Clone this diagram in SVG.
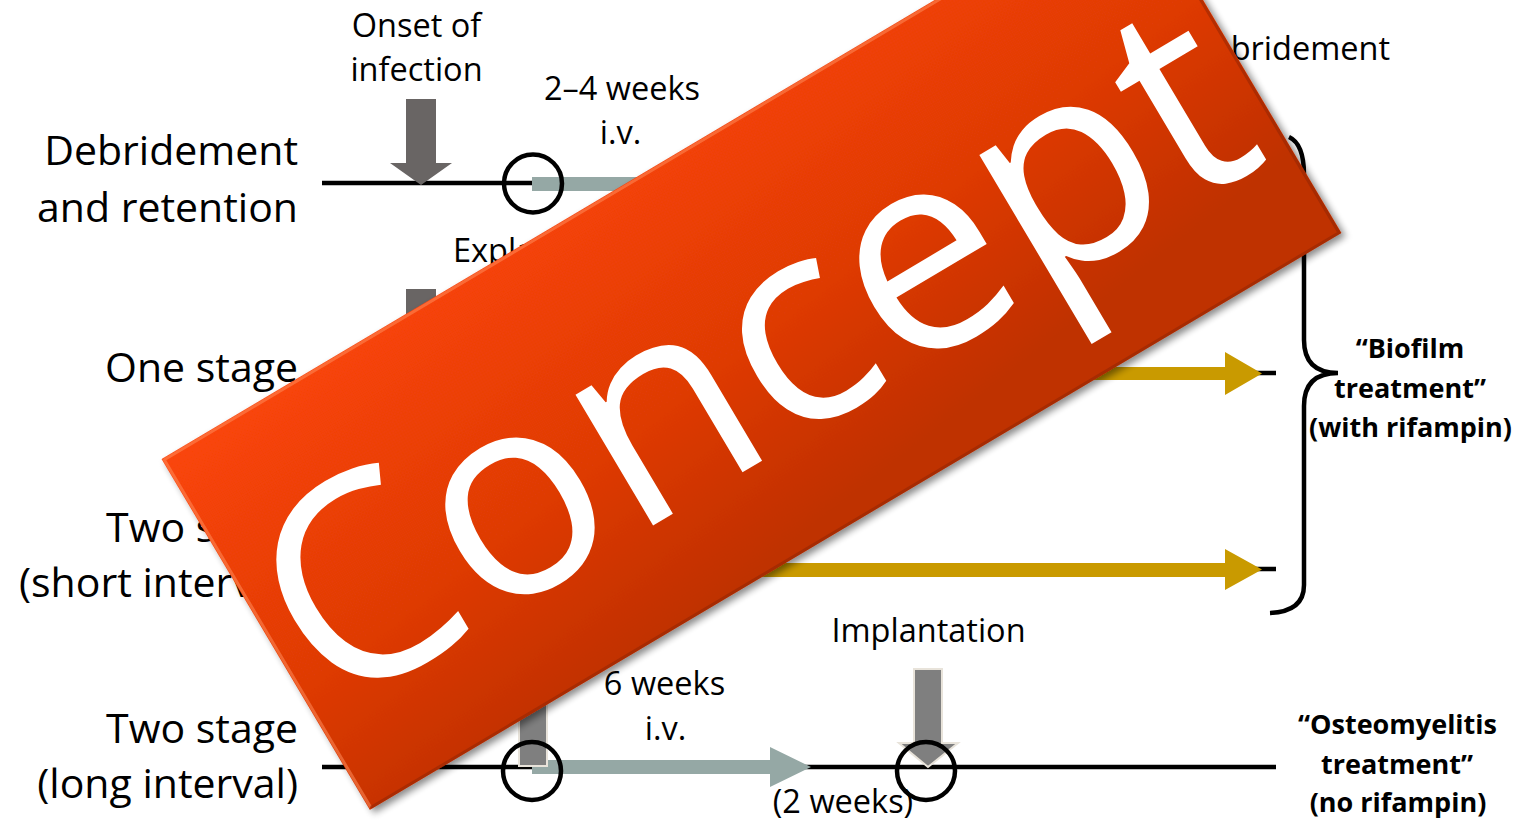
<svg xmlns="http://www.w3.org/2000/svg" width="1518" height="821" viewBox="0 0 1518 821">
<style>
.lbl{font-family:"Open Sans","Liberation Sans",sans-serif;font-size:32.5px;fill:#000}
.big{font-family:"Open Sans","Liberation Sans",sans-serif;font-size:41px;fill:#000;text-anchor:end}
.bold{font-family:"Open Sans","Liberation Sans",sans-serif;font-size:27px;font-weight:bold;fill:#000;text-anchor:middle}
.mid{text-anchor:middle}
.line{stroke:#000;stroke-width:4.5;fill:none}
.circ{stroke:#000;stroke-width:4.5;fill:none}
.onset{fill:#696564}
.iv{fill:#95A8A5}
.gold{fill:#C99A00}
.implant{fill:#7F7F7F;stroke:#E8E3DA;stroke-width:2}
</style>
<defs>
<linearGradient id="bannerGrad" x1="0" y1="0" x2="0.35" y2="1">
<stop offset="0" stop-color="#FA4507"/>
<stop offset="0.6" stop-color="#DE3A06"/>
<stop offset="1" stop-color="#BF3006"/>
</linearGradient>
<filter id="shadow" x="-10%" y="-10%" width="120%" height="130%">
<feDropShadow dx="2" dy="5" stdDeviation="3.5" flood-color="#000" flood-opacity="0.45"/>
</filter>
</defs>
<rect width="1518" height="821" fill="#fff"/>

<g id="connectors">
<line class="line" x1="322" y1="183" x2="1276" y2="183"/>
<line class="line" x1="322" y1="373" x2="1276" y2="373"/>
<line class="line" x1="322" y1="569" x2="1276" y2="569"/>
<line class="line" x1="322" y1="767" x2="1276" y2="767"/>
<polygon class="iv" points="532,177 770,177 770,163 811,184 770,205 770,191 532,191"/>
<polygon class="gold" points="533,367 1225,367 1225,352 1262,373.5 1225,395 1225,380 533,380"/>
<polygon class="gold" points="533,563 1225,563 1225,549 1262,569.5 1225,590 1225,577 533,577"/>
<polygon class="iv" points="532,760 770,760 770,747 811,767 770,787 770,774 532,774"/>
<path class="line" d="M1289,137 C1300,142 1304,155 1304,175 L1304,340 C1304,362 1315,373 1338,373 C1315,373 1304,384 1304,406 L1304,585 C1304,603 1292,612 1270,613"/>
</g>

<g id="row-labels">
<text class="big" x="298" y="165">Debridement</text>
<text class="big" x="298" y="222">and retention</text>
<text class="big" x="298" y="382">One stage</text>
<text class="big" x="298" y="542">Two stage</text>
<text class="big" x="298" y="597">(short interval)</text>
<text class="big" x="298" y="743">Two stage</text>
<text class="big" x="298" y="798">(long interval)</text>
</g>

<g id="onset">
<text class="lbl mid" x="416.5" y="37">Onset of</text>
<text class="lbl mid" x="416.5" y="81">infection</text>
<polygon class="onset" points="406,99 436,99 436,163 452,163 421,185 390,163 406,163"/>
<polygon class="onset" points="406,289 436,289 436,353 452,353 421,375 390,353 406,353"/>
<polygon class="onset" points="406,485 436,485 436,549 452,549 421,571 390,549 406,549"/>
<polygon class="onset" points="406,683 436,683 436,747 452,747 421,769 390,747 406,747"/>
</g>

<g id="debridement-circle">
<circle class="circ" cx="533" cy="183.5" r="29"/>
<text class="lbl mid" x="622" y="100">2–4 weeks</text>
<text class="lbl mid" x="620.5" y="144">i.v.</text>
</g>

<g id="debridement-label">
<text class="lbl" x="1390" y="60" text-anchor="end">Debridement</text>
</g>

<g id="explantation">
<text class="lbl" x="453" y="262">Explantation</text>
<rect class="implant" x="519" y="690" width="28" height="76"/>
<circle class="circ" cx="532" cy="771" r="29"/>
<text class="lbl mid" x="664.5" y="695">6 weeks</text>
<text class="lbl mid" x="665.5" y="740">i.v.</text>
<text class="lbl mid" x="843" y="813">(2 weeks)</text>
</g>

<g id="implantation">
<text class="lbl mid" x="928.5" y="642">Implantation</text>
<polygon class="implant" points="914,669 942,669 942,743 958,743 928,767 899,743 914,743"/>
<circle class="circ" cx="926" cy="771" r="29"/>
</g>

<g id="biofilm">
<text class="bold" x="1410" y="358">“Biofilm</text>
<text class="bold" x="1410" y="398">treatment”</text>
<text class="bold" x="1410.5" y="437">(with rifampin)</text>
</g>

<g id="osteomyelitis">
<text class="bold" x="1397.5" y="734">“Osteomyelitis</text>
<text class="bold" x="1397" y="774">treatment”</text>
<text class="bold" x="1398" y="812">(no rifampin)</text>
</g>

<g id="concept-banner" transform="translate(751.5,346) rotate(-30.7)">
<rect x="-565" y="-204" width="1130" height="408" fill="url(#bannerGrad)" filter="url(#shadow)"/>
<path d="M-563,202 L-563,-202 L563,-202" fill="none" stroke="#FF8A5A" stroke-opacity="0.55" stroke-width="3"/>
<path d="M-563,202.5 L563,202.5 L563,-202" fill="none" stroke="#8E2404" stroke-opacity="0.5" stroke-width="3"/>
<text x="-3" y="104" text-anchor="middle" font-family="Open Sans, Liberation Sans, sans-serif" font-size="284" fill="#FFFFFF">Concept</text>
</g>
</svg>
